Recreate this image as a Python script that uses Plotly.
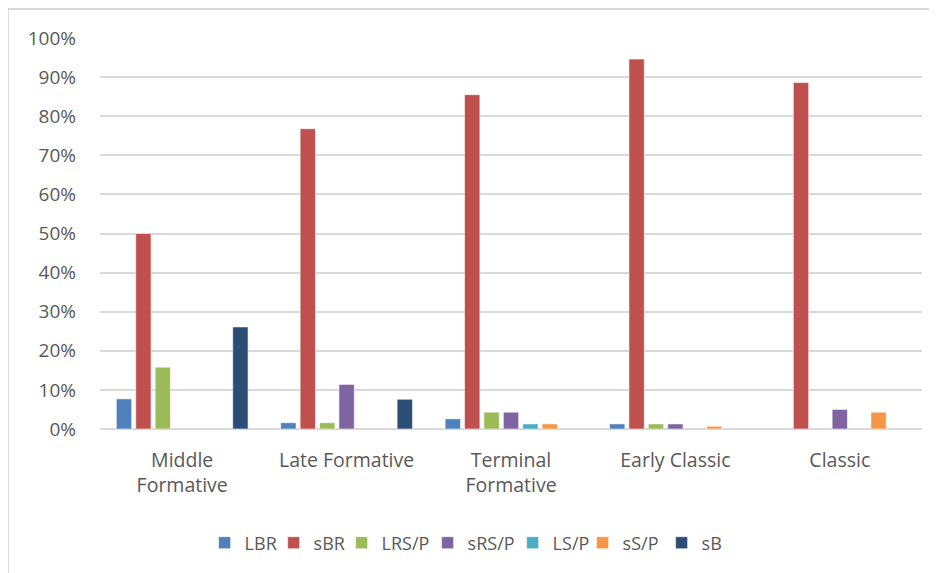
import plotly.graph_objects as go

categories = ["Middle<br>Formative", "Late Formative", "Terminal<br>Formative", "Early Classic", "Classic"]
series_names = ["LBR", "sBR", "LRS/P", "sRS/P", "LS/P", "sS/P", "sB"]
series_colors = ["#4F81BD", "#C0504D", "#9BBB59", "#8064A2", "#4BACC6", "#F79646", "#2C4D75"]

LBR  = [0.077, 0.016, 0.026, 0.013, None]
sBR  = [0.500, 0.768, 0.855, 0.946, 0.886]
LRSP = [0.158, 0.016, 0.043, 0.013, None]
sRSP = [None, 0.114, 0.043, 0.013, 0.050]
LSP  = [None, None, 0.013, None, None]
sSP  = [None, None, 0.013, 0.007, 0.043]
sB   = [0.261, 0.076, None, None, None]

series_values = [LBR, sBR, LRSP, sRSP, LSP, sSP, sB]

# legend entry widths (style only, px)
legend_widths = [24, 23, 41, 40, 25, 34, 22]

fig = go.Figure()
for name, vals, col, lw in zip(series_names, series_values, series_colors, legend_widths):
    fig.add_trace(go.Bar(
        x=categories, y=vals, name=name, legendwidth=lw,
        marker=dict(color=col, line=dict(color="rgba(255,255,255,0.55)", width=1)),
    ))

font_family = "Open Sans, Noto Sans, sans-serif"
fig.update_layout(
    width=929, height=565,
    margin=dict(l=92, r=15, t=30, b=144),
    paper_bgcolor="white", plot_bgcolor="white",
    barmode="group", bargap=0.174, bargroupgap=0.21,
    font=dict(family=font_family, size=18, color="#595959"),
    showlegend=True,
    legend=dict(orientation="h", x=0.446, xanchor="center", y=-0.2916, yanchor="middle",
                font=dict(size=18, color="#595959"), itemwidth=30,
                traceorder="normal"),
    xaxis=dict(showgrid=False, showline=False, zeroline=False, ticks="",
               ticklabelstandoff=17, tickfont=dict(size=19.5, color="#595959")),
    yaxis=dict(range=[0, 1], dtick=0.1, tickformat=".0%", showgrid=True,
               gridcolor="#D9D9D9", gridwidth=1.5, zeroline=True, zerolinecolor="#D9D9D9",
               zerolinewidth=2, showline=False, ticks="", ticklabelstandoff=23,
               tickfont=dict(size=19, color="#595959")),
    shapes=[
        dict(type="line", xref="paper", yref="paper", x0=-0.112, x1=1.5, y0=1.074, y1=1.074,
             line=dict(color="#D9D9D9", width=2)),
        dict(type="line", xref="paper", yref="paper", x0=-0.112, x1=-0.112, y0=1.074, y1=-1,
             line=dict(color="#D9D9D9", width=2)),
    ],
)

fig.write_html("out.html")
